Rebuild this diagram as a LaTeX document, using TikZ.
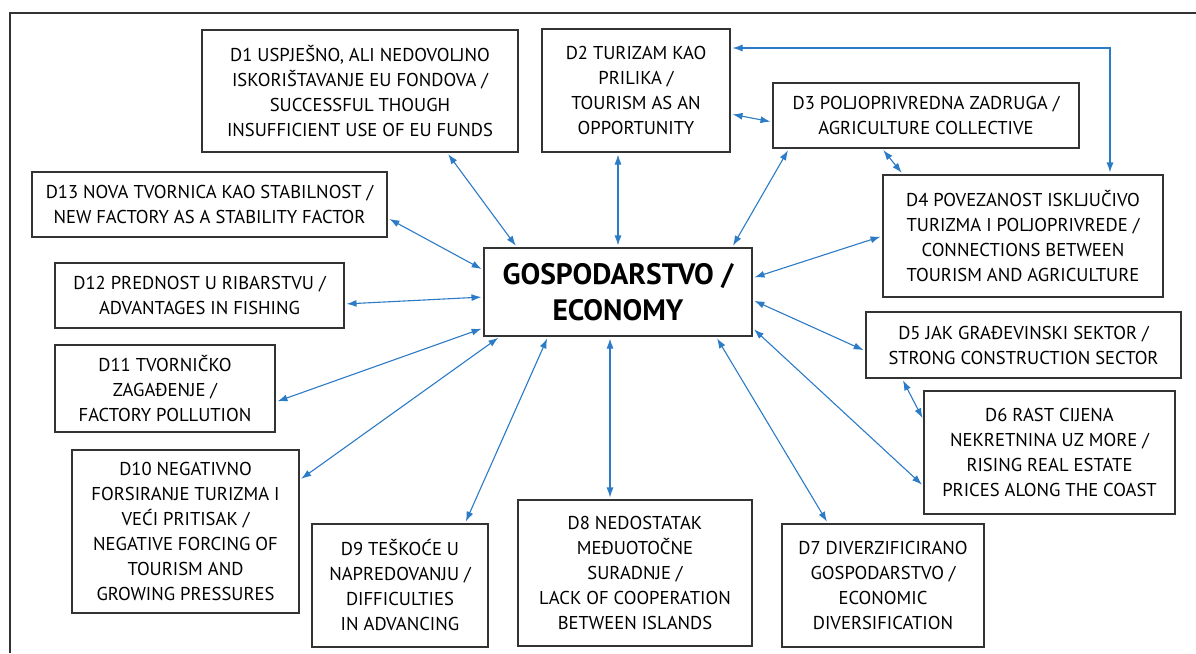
\documentclass[tikz,border=0pt]{standalone}
\usepackage{fontspec}
\setmainfont{PT Sans}
\usetikzlibrary{arrows.meta}
\definecolor{linkblue}{HTML}{2B7BC6}
\definecolor{boxgray}{HTML}{333333}
\begin{document}
\begin{tikzpicture}[x=1pt,y=-1pt,
  factor/.style={draw=boxgray,line width=1.1pt,align=center,inner sep=0pt,
    font=\fontsize{18.6}{25}\selectfont},
  link/.style={draw=linkblue,line width=1.1pt,{Latex[length=10pt,width=7pt]}-{Latex[length=10pt,width=7pt]},shorten <=2pt,shorten >=2pt}]
\useasboundingbox (0,0) rectangle (1196,653);
\draw[boxgray,line width=1.1pt] (10,653)--(10,13)--(1196,13);
\node[factor,minimum width=268,minimum height=88,font=\fontsize{29.5}{36}\selectfont\bfseries] (econ) at (618,292) {GOSPODARSTVO /\\ECONOMY};
\node[factor,minimum width=316,minimum height=122] (d1) at (360,91) {D1 USPJEŠNO, ALI NEDOVOLJNO\\ISKORIŠTAVANJE EU FONDOVA /\\SUCCESSFUL THOUGH\\INSUFFICIENT USE OF EU FUNDS};
\node[factor,minimum width=188,minimum height=123] (d2) at (636,90.5) {D2 TURIZAM KAO\\PRILIKA /\\TOURISM AS AN\\OPPORTUNITY};
\node[factor,minimum width=306,minimum height=65] (d3) at (926,115.5) {D3 POLJOPRIVREDNA ZADRUGA /\\AGRICULTURE COLLECTIVE};
\node[factor,minimum width=280,minimum height=122] (d4) at (1023,236) {D4 POVEZANOST ISKLJUČIVO\\TURIZMA I POLJOPRIVREDE /\\CONNECTIONS BETWEEN\\TOURISM AND AGRICULTURE};
\node[factor,minimum width=315,minimum height=66] (d5) at (1023.5,345) {D5 JAK GRAĐEVINSKI SEKTOR /\\STRONG CONSTRUCTION SECTOR};
\node[factor,minimum width=251,minimum height=123] (d6) at (1049.5,452.5) {D6 RAST CIJENA\\NEKRETNINA UZ MORE /\\RISING REAL ESTATE\\PRICES ALONG THE COAST};
\node[factor,minimum width=202,minimum height=123] (d7) at (883,585.5) {D7 DIVERZIFICIRANO\\GOSPODARSTVO /\\ECONOMIC\\DIVERSIFICATION};
\node[factor,minimum width=234,minimum height=146] (d8) at (635,573) {D8 NEDOSTATAK\\MEĐUOTOČNE\\SURADNJE /\\LACK OF COOPERATION\\BETWEEN ISLANDS};
\node[factor,minimum width=176,minimum height=123] (d9) at (400,585.5) {D9 TEŠKOĆE U\\NAPREDOVANJU /\\DIFFICULTIES\\IN ADVANCING};
\node[factor,minimum width=227,minimum height=163] (d10) at (185.5,531.5) {D10 NEGATIVNO\\FORSIRANJE TURIZMA I\\VEĆI PRITISAK /\\NEGATIVE FORCING OF\\TOURISM AND\\GROWING PRESSURES};
\node[factor,minimum width=220,minimum height=87] (d11) at (165,388.5) {D11 TVORNIČKO\\ZAGAĐENJE /\\FACTORY POLLUTION};
\node[factor,minimum width=289,minimum height=65] (d12) at (199.5,295.5) {D12 PREDNOST U RIBARSTVU /\\ADVANTAGES IN FISHING};
\node[factor,minimum width=355,minimum height=65] (d13) at (209.5,204.5) {D13 NOVA TVORNICA KAO STABILNOST /\\NEW FACTORY AS A STABILITY FACTOR};
\draw[link] ([xshift=87]d1.south)--([xshift=-101]econ.north);
\draw[link] ([xshift=-18]d2.south)--(econ.north);
\draw[link] ([xshift=-137]d3.south)--([xshift=114]econ.north);
\draw[link] (d4.west)--([yshift=14]econ.east);
\draw[link] ([yshift=-6]d5.west)--([yshift=-8]econ.east);
\draw[link] ([yshift=-33.5]d6.west)--([yshift=-36]econ.east);
\draw[link] ([xshift=-55]d7.north)--([xshift=98]econ.south);
\draw[link] ([xshift=-25]d8.north)--([xshift=-8]econ.south);
\draw[link] ([xshift=65]d9.north)--([xshift=-70]econ.south);
\draw[link] ([yshift=51.5]d10.east)--([xshift=-118]econ.south);
\draw[link] ([yshift=-13.5]d11.east)--([yshift=-36]econ.west);
\draw[link] ([yshift=-8.5]d12.east)--([yshift=-5]econ.west);
\draw[link] ([yshift=-13.5]d13.east)--([yshift=22]econ.west);
\draw[link] ([yshift=-23.5]d2.east)--([yshift=-6.5]d3.west);
\draw[link] ([xshift=-44]d3.south)--([xshift=-120]d4.north);
\draw[link] ([xshift=-121.5]d5.south)--([yshift=32.5]d6.west);
\draw[link] ([yshift=42.5]d2.east)-|([xshift=87]d4.north);
\end{tikzpicture}
\end{document}
